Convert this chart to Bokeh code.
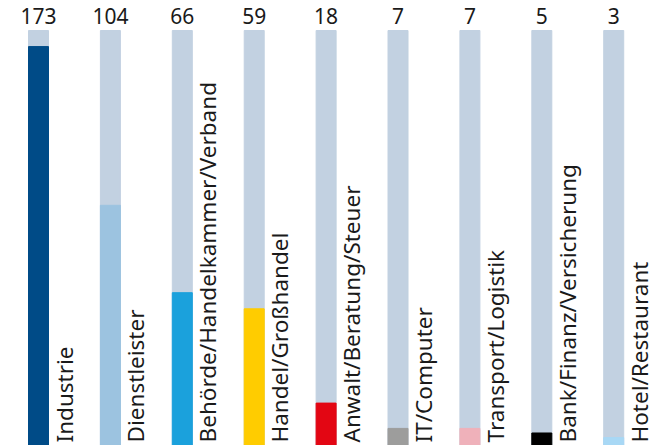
from bokeh.plotting import figure
from bokeh.models import ColumnDataSource, Range1d
from bokeh.core.properties import value
from bokeh.embed import file_html
from bokeh.resources import INLINE

categories = ["Industrie", "Dienstleister", "Behörde/Handelkammer/Verband", "Handel/Großhandel",
              "Anwalt/Beratung/Steuer", "IT/Computer", "Transport/Logistik",
              "Bank/Finanz/Versicherung", "Hotel/Restaurant"]
values = [173, 104, 66, 59, 18, 7, 7, 5, 3]
colors = ["#004b87", "#9cc3e0", "#1ba1dc", "#ffcc00", "#e30613", "#9d9d9c", "#efb1ba", "#000000", "#a8d8f5"]
background_max = 180

xs = list(range(len(categories)))
src = ColumnDataSource(dict(
    x=xs, v=values, c=colors, cat=categories,
    bg=[background_max] * len(xs),
    vlab=[str(v) for v in values],
    labx=[x + 0.14 for x in xs],
))

p = figure(width=655, height=445, output_backend="svg", toolbar_location=None,
           x_range=Range1d(-0.5285, 8.581), y_range=Range1d(-0.435, 193.04),
           min_border=0)
p.axis.visible = False
p.grid.visible = False
p.outline_line_color = None
p.background_fill_color = "white"
p.border_fill_color = "white"

bw = 20 / 71.9
p.vbar(x="x", top="bg", bottom=-5, width=bw, color="#c2d1e1", source=src)
p.vbar(x="x", top="v", bottom=-5, width=bw, color="c", source=src)

p.text(x="x", y=186.3, text="vlab", source=src, text_align="center", text_baseline="alphabetic",
       text_font=value("Noto Sans"), text_font_size="21px", text_color="#1a1a1a")
p.text(x="labx", y=0.9, text="cat", source=src, angle=1.5707963, text_align="left",
       text_baseline="top", text_font=value("Noto Sans"), text_font_size="22.5px", text_color="#1a1a1a")

html = file_html(p, INLINE)
html = html.replace("</head>", "<style>html,body{overflow:hidden}</style></head>")
open("out.html", "w").write(html)
